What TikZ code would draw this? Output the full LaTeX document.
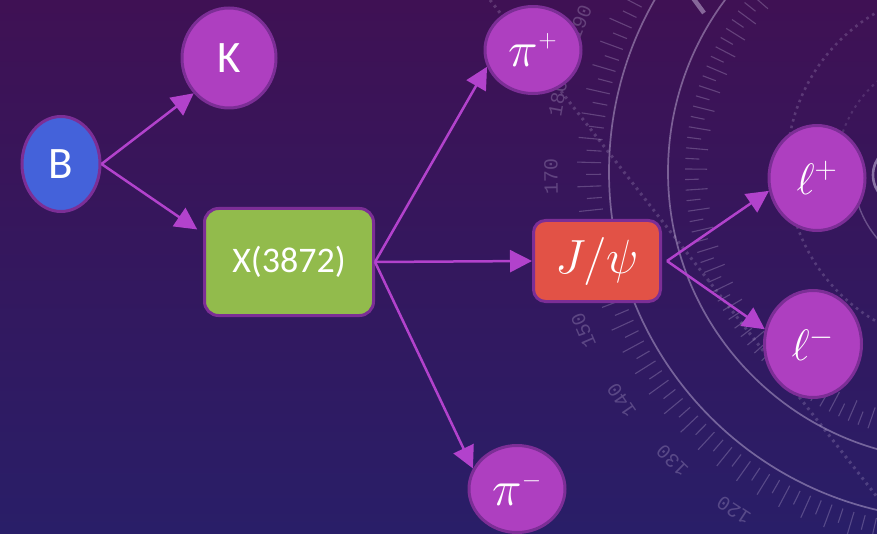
\documentclass[tikz,border=0pt]{standalone}
\usepackage{fix-cm}
\usepackage[no-math]{fontspec}
\setmainfont{Carlito}
\newfontfamily\dialfont{Liberation Mono}
\usetikzlibrary{shapes.geometric,arrows.meta,calc}

\definecolor{bgtop}{RGB}{63,17,84}
\definecolor{bgmid}{RGB}{55,23,94}
\definecolor{bgbot}{RGB}{41,30,104}
\definecolor{particle}{RGB}{174,63,192}
\definecolor{rim}{RGB}{124,46,150}
\definecolor{bmeson}{RGB}{68,98,218}
\definecolor{xstate}{RGB}{146,187,76}
\definecolor{jpsi}{RGB}{226,82,70}
\definecolor{flow}{RGB}{178,66,204}
\definecolor{dial}{RGB}{205,190,225}

\begin{document}
\begin{tikzpicture}[x=1pt,y=-1pt,
  particle/.style={ellipse, draw=rim, line width=3pt, fill=particle,
    text=white, inner sep=0pt},
  hadron/.style={particle, font=\fontsize{45}{50}\selectfont},
  lepton/.style={particle, font=\fontsize{44}{48}\selectfont},
  pion/.style={particle, font=\fontsize{50}{54}\selectfont},
  statebox/.style={rectangle, rounded corners=14pt, draw=rim, line width=3pt,
    text=white, inner sep=0pt},
  decay/.style={draw=flow, line width=2.5pt,
    -{Triangle[length=22pt,width=22pt]}},
  ring/.style={draw=dial, line width=1.7pt, opacity=.45},
  tick/.style={draw=dial, line width=1.1pt, opacity=.28},
  dots/.style={draw=dial, line width=2.6pt, opacity=.22,
    dash pattern=on 2.6pt off 4.2pt},
  dialnum/.style={text=dial, opacity=.28, inner sep=0pt,
    font=\dialfont\fontsize{20}{22}\selectfont},
]
% page and backdrop
\useasboundingbox (0,0) rectangle (877,534);
\shade[top color=bgtop, middle color=bgmid, bottom color=bgbot]
  (0,0) rectangle (877,534);

% protractor dial in the background
\begin{scope}
  \clip (0,0) rectangle (877,534);
  \coordinate (hub) at (956,172);
  \draw[ring] (hub) circle[radius=347];
  \draw[ring] (hub) circle[radius=288];
  \draw[ring, opacity=.35, line width=1.4pt] ({956+103*cos(100)},{172+103*sin(100)})
    arc[start angle=100, end angle=172, radius=103];
  \draw[dots, opacity=.16, line width=2pt] ({956+120*cos(180)},{172+120*sin(180)})
    arc[start angle=180, end angle=260, radius=120];
  \draw[ring, opacity=.55, line width=2.6pt] (903,175) circle[radius=30];
  \draw[dots] (965,167) circle[radius=178];
  \draw[dots, line width=3pt] (490,0) -- (895,520);
  \draw[ring, opacity=.5, line width=4.5pt] (693,-2) -- (704,13);
  % outer scale
  \foreach \i in {0,...,70}{
    \pgfmathsetmacro\t{88+1.87*\i}
    \ifodd\i\def\ro{370}\else\def\ro{379}\fi
    \draw[tick] ({956+355*cos(\t)},{172+355*sin(\t)})
      -- ({956+\ro*cos(\t)},{172+\ro*sin(\t)});
  }
  % inner scale
  \foreach \i in {0,...,60}{
    \pgfmathsetmacro\t{100+2.24*\i}
    \ifodd\i\def\ri{257}\else\def\ri{249}\fi
    \draw[tick] ({956+\ri*cos(\t)},{172+\ri*sin(\t)})
      -- ({956+271*cos(\t)},{172+271*sin(\t)});
  }
  % scale numbers (160 lies under the J/psi box)
  \foreach \L in {120,130,140,150,170,180,190}{
    \pgfmathsetmacro\t{179.3+(\L-170)*1.12}
    \node[dialnum, rotate={-\t-90}] at ({956+405*cos(\t)},{172+405*sin(\t)}) {\L};
  }
\end{scope}

% particles
\node[hadron, fill=bmeson, minimum width=78pt, minimum height=95pt] (B) at (61,164) {B};
\node[hadron, minimum width=94pt, minimum height=100pt] (K) at (229,58) {K};
\node[statebox, fill=xstate, minimum width=169pt, minimum height=107pt,
  font=\fontsize{36}{40}\selectfont] (X) at (289,262) {X(3872)};
\node[statebox, fill=jpsi, rounded corners=12pt, minimum width=127pt,
  minimum height=81pt, font=\fontsize{48}{52}\selectfont] (J) at (597,261) {$J/\psi$};
\node[pion, minimum width=96pt, minimum height=87pt] (pip) at (533,50)
  {$\pi^{\scriptscriptstyle +}$};
\node[pion, minimum width=96pt, minimum height=87pt] (pim) at (517,489)
  {$\pi^{\scriptscriptstyle -}$};
\node[lepton, minimum width=96pt, minimum height=105pt] (lp) at (817,178) {$\ell^{+}$};
\node[lepton, minimum width=97pt, minimum height=107pt] (lm) at (813,344) {$\ell^{-}$};

% decay chain
\coordinate (xin) at ($(X.north west)!.24!(X.south west)$);
\coordinate (jout) at ([xshift=5pt]J.east);
\draw[decay] (B.east) -- (K.225);
\draw[decay, shorten >=7pt] (B.east) -- (xin);
\draw[decay] (X.east) -- (pip.200);
\draw[decay] (X.east) -- (J.west);
\draw[decay] (X.east) -- (pim.155);
\draw[decay] (jout) -- (lp.195);
\draw[decay] (jout) -- (lm.163);
\end{tikzpicture}
\end{document}
